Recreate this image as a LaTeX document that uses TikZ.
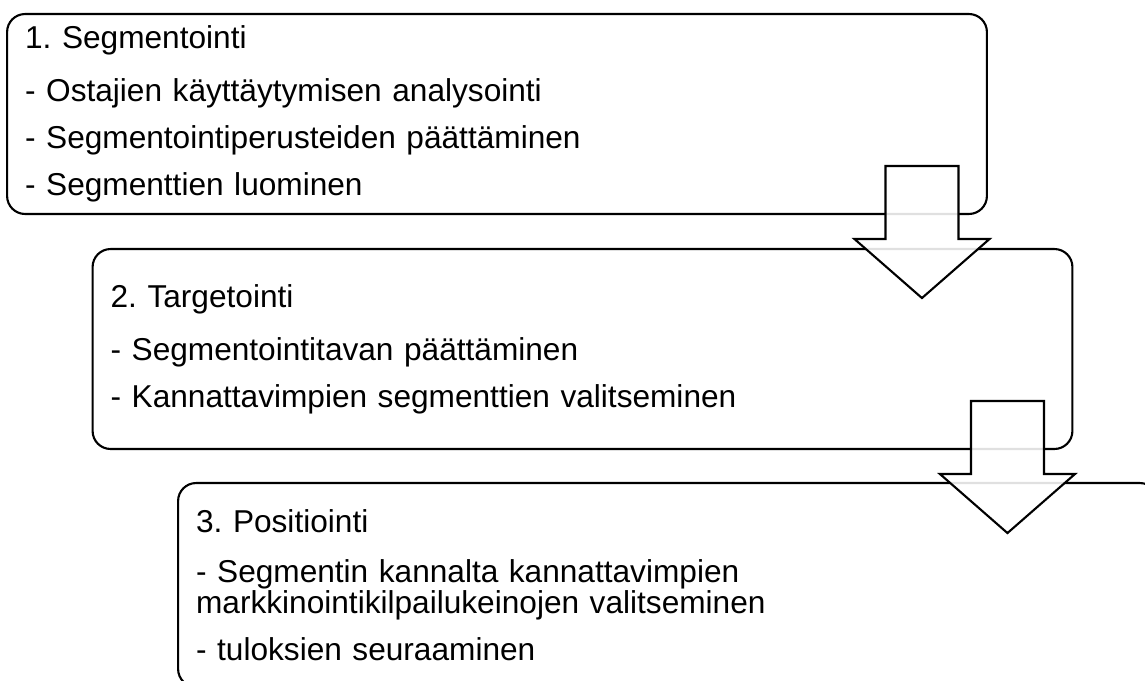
\documentclass[tikz,border=0pt]{standalone}
\usepackage{fontspec}
\setmainfont{Liberation Sans}
\usetikzlibrary{calc}
\frenchspacing

\begin{document}
\begin{tikzpicture}[
    x=0.02cm, y=-0.02cm,
    stage/.style={draw, line width=1.2pt, rounded corners=0.36cm, fill=white,
      text width=18.88cm, inner xsep=0.36cm, inner ysep=0pt, align=left,
      minimum height=4cm, font=\fontsize{18}{16}\selectfont},
    blockarrow/.style={draw, line width=1.2pt, fill=white, fill opacity=0.88,
      line join=miter}
  ]
  \path[use as bounding box] (0,0) rectangle (1145,680);
  \clip (0,0) rectangle (1145,680);

  % the three stages
  \node[stage] (seg) at (497,114) {1. Segmentointi\\[12.5pt]
    - Ostajien käyttäytymisen analysointi\\[9pt]
    - Segmentointiperusteiden päättäminen\\[9pt]
    - Segmenttien luominen};
  \node[stage] (tgt) at (582.5,349) {2. Targetointi\\[12.5pt]
    - Segmentointitavan päättäminen\\[9pt]
    - Kannattavimpien segmenttien valitseminen};
  \node[stage, minimum height=4.08cm] (pos) at (668,585) {3. Positiointi\\[12.5pt]
    - Segmentin kannalta kannattavimpien\\
    markkinointikilpailukeinojen valitseminen\\[9pt]
    - tuloksien seuraaminen};

  % block arrows between the stages
  \foreach \b in {seg,tgt}
    \draw[blockarrow] ($(\b.south east)+(-66,-49)$) ++(-36.5,0) -- ++(73,0)
      -- ++(0,73) -- ++(31,0) -- ++(-67.5,59) -- ++(-67.5,-59) -- ++(31,0)
      -- cycle;
\end{tikzpicture}
\end{document}
